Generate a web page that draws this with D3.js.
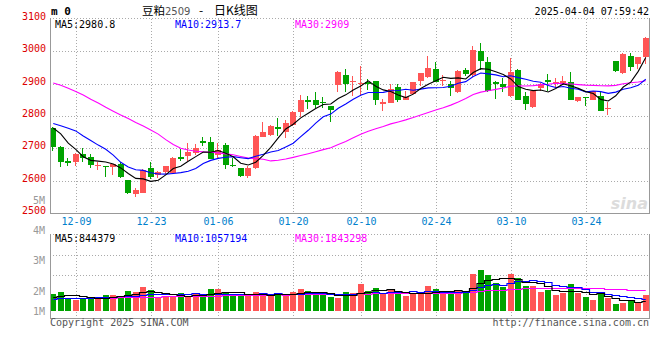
<!DOCTYPE html>
<html><head><meta charset="utf-8">
<script src="https://cdn.jsdelivr.net/npm/d3@7"></script>
<style>
html,body{margin:0;padding:0;background:#fff;}
svg{display:block;}
text{font-family:"DejaVu Sans Mono",monospace;}
</style></head><body>
<svg id="c" width="660" height="360"></svg>
<script>
// ---------- data ----------
const dates = ["12-04","12-05","12-06","12-09","12-10","12-11","12-12","12-13","12-16","12-17","12-18","12-19","12-20","12-23","12-24","12-25","12-26","12-27","12-30","12-31",
"01-02","01-03","01-06","01-07","01-08","01-09","01-10","01-13","01-14","01-15","01-16","01-17","01-20","01-21","01-22","01-23","01-24","01-27",
"02-05","02-06","02-07","02-10","02-11","02-12","02-13","02-14","02-17","02-18","02-19","02-20","02-21","02-24","02-25","02-26","02-27","02-28",
"03-03","03-04","03-05","03-06","03-07","03-10","03-11","03-12","03-13","03-14","03-17","03-18","03-19","03-20","03-21","03-24","03-25","03-26","03-27","03-28","03-31",
"04-01","04-02","04-03"];
const opens  = [2764,2705,2661,2659,2682,2672,2645,2646,2641,2651,2602,2558,2563,2638,2617,2628,2625,2674,2676,2686,
2723,2721,2679,2710,2650,2638,2615,2640,2736,2742,2766,2750,2772,2811,2851,2848,2844,2832,
2896,2928,2904,2899,2904,2909,2837,2839,2891,2850,2868,2907,2920,2945,2907,2900,2875,2942,
2926,3000,2966,2905,2899,2863,2941,2863,2827,2886,2910,2898,2903,2905,2847,2859,2850,2863,2824,2971,2934,
2987,2961,2982];
const highs  = [2767,2707,2669,2685,2700,2684,2659,2646,2653,2658,2602,2578,2635,2659,2631,2645,2672,2697,2715,2713,
2734,2734,2715,2715,2669,2640,2645,2742,2781,2773,2793,2789,2817,2866,2863,2873,2860,2832,
2938,2945,2925,2954,2914,2909,2853,2899,2899,2878,2906,2932,2987,2966,2927,2908,2941,2947,
3015,3025,2982,2908,2919,2980,2944,2875,2880,2903,2931,2919,2924,2936,2859,2859,2878,2873,2842,2971,2995,
2995,2984,3043];
const lows   = [2693,2643,2645,2645,2659,2640,2633,2612,2618,2607,2559,2549,2561,2605,2607,2620,2621,2662,2662,2679,
2708,2667,2669,2635,2643,2610,2608,2636,2734,2739,2739,2731,2768,2796,2822,2825,2825,2781,
2873,2873,2863,2866,2880,2835,2817,2839,2844,2848,2866,2894,2918,2904,2893,2861,2871,2924,
2921,2941,2873,2853,2873,2858,2848,2820,2825,2878,2878,2888,2896,2850,2842,2832,2849,2814,2804,2935,2929,
2938,2945,2962];
const closes = [2705,2659,2654,2682,2671,2648,2647,2641,2651,2610,2563,2571,2633,2612,2628,2645,2669,2668,2690,2700,
2715,2667,2695,2648,2645,2614,2640,2739,2752,2770,2761,2778,2811,2851,2842,2834,2839,2820,
2935,2899,2909,2901,2899,2851,2844,2884,2848,2858,2904,2932,2948,2904,2910,2888,2939,2931,
3005,2969,2878,2900,2890,2936,2851,2837,2878,2900,2905,2905,2908,2850,2859,2855,2876,2817,2826,2938,2991,
2951,2984,3040];
const volumes = [1480000,1660000,1120000,970000,1120000,1180000,1030000,1390000,1390000,1270000,
1720000,1660000,2100000,1810000,1120000,1180000,1330000,1540000,1270000,1450000,
1210000,1900000,1900000,1630000,1420000,1300000,1300000,1630000,1540000,1300000,
1420000,1450000,1630000,1900000,1720000,1420000,1420000,1210000,1120000,1660000,
1570000,2370000,1720000,2020000,1480000,1900000,1510000,1270000,1480000,1480000,
2190000,1930000,1510000,1720000,1810000,1720000,3270000,3590000,3150000,2430000,
2080000,3270000,2910000,2190000,2190000,1660000,1840000,1360000,1540000,2367000,
1520000,1250000,910000,1560000,1110045,560000,680000,900000,680000,1401895];
// moving-average values before enough in-window data exists
const ma5Head  = [2763,2745,2716,2697];
const ma10Head = [2777,2770,2762,2754,2738,2724,2710,2697,2679];
const ma30Head = [2902,2895,2886,2876,2865,2852,2840,2827,2815,2803,2792,2780,2769,2757,2744,2727,2712,2700,2695,2691,2689,2688,2686,2683,2680,2675,2670,2668,2666];
const vma5Head  = [1200000,1300000,1340000,1340000];
const vma10Head = [1070000,1100000,1130000,1130000,1130000,1150000,1170000,1190000,1220000];
const vma30Head = [1070000,1090000,1110000,1120000,1130000,1130000,1140000,1150000,1160000,1180000,1190000,1200000,1220000,1240000,1250000,1260000,1270000,1280000,1290000,1300000,1310000,1320000,1330000,1350000,1370000,1380000,1400000,1410000,1420000];
const priceTicks = [2500,2600,2700,2800,2900,3000,3100];
const volTicks = [1000000,2000000,3000000,4000000,5000000];
const volTickLabels = ["1M","2M","3M","4M","5M"];
const dateTicks = ["12-09","12-23","01-06","01-20","02-10","02-24","03-10","03-24"];
const titleName = "豆粕", titleCode = "2509", titleDash = "-", titleTail = "日K线图";
const stamp = "2025-04-04 07:59:42";

// ---------- helpers ----------
function movingAvg(vals, n, head){
  return vals.map((v,i)=>{
    if(i < n-1) return head[i];
    let s=0; for(let k=i-n+1;k<=i;k++) s+=vals[k]; return s/n;
  });
}
const ma5 = movingAvg(closes,5,ma5Head), ma10 = movingAvg(closes,10,ma10Head), ma30 = movingAvg(closes,30,ma30Head);
const vma5 = movingAvg(volumes,5,vma5Head), vma10 = movingAvg(volumes,10,vma10Head), vma30 = movingAvg(volumes,30,vma30Head);
const fmtP = v => String(+v.toFixed(1));
const fmtV = v => String(Math.round(v));

// ---------- layout ----------
const L=50, R=649, PT=19, PB=213, VT=234, VB=318;
const RED="#ff5555", GREEN="#00a300", GRID="#aaaaaa", AX="#999999";
const svg = d3.select("#c");

const x = d3.scaleBand().domain(dates).range([49.5, 649.5]);
const cx = d => x(d) + x.step()/2;
const y = d3.scaleLinear().domain([2500,3100]).range([PB,PT]);
const yV = d3.scaleLinear().domain([0,4000000]).range([310.5,265.7]);
const yVL = d3.scaleLinear().domain([2000000,5000000]).range([294.5,203.5]);

const idx = d3.range(dates.length);
const up = i => closes[i] >= opens[i];

// ---------- grids ----------
const g = svg.append("g").attr("shape-rendering","crispEdges");
g.selectAll(".hg").data(priceTicks.filter(t=>t>2500 && t<3100)).join("line")
  .attr("x1",L).attr("x2",R).attr("y1",t=>Math.round(y(t))+0.5).attr("y2",t=>Math.round(y(t))+0.5)
  .attr("stroke",GRID).attr("stroke-dasharray","1,2");
[PT-0.5, VT+0.5].forEach(yy=>{
  g.append("line").attr("x1",L).attr("x2",R).attr("y1",yy).attr("y2",yy).attr("stroke",GRID).attr("stroke-dasharray","1,2");
});
[255.5,275.5].forEach(yy=>{
  g.append("line").attr("x1",L).attr("x2",R).attr("y1",yy).attr("y2",yy).attr("stroke",GRID).attr("stroke-dasharray","1,2");
});
const gx = d => Math.round(cx(d))+0.5;
g.selectAll(".vg").data(dateTicks).join("line")
  .attr("x1",gx).attr("x2",gx).attr("y1",PT).attr("y2",PB).attr("stroke",GRID).attr("stroke-dasharray","1,2");
g.selectAll(".vg2").data(dateTicks).join("line")
  .attr("x1",gx).attr("x2",gx).attr("y1",VT).attr("y2",VB).attr("stroke",GRID).attr("stroke-dasharray","1,2");

// watermark (behind marks)
svg.append("text").attr("x",648).attr("y",209).attr("text-anchor","end")
  .style("font-family","'DejaVu Sans',sans-serif").attr("font-size","16px").attr("font-style","italic").attr("font-weight","bold")
  .attr("fill","#dcdcdc").text("sina");

// ---------- candles ----------
const cg = svg.append("g").attr("shape-rendering","crispEdges");
idx.forEach(i=>{
  const d = dates[i];
  const left = Math.round(cx(d)-3);
  const col = up(i) ? RED : GREEN;
  const top = Math.round(y(Math.max(opens[i],closes[i])));
  const bot = Math.round(y(Math.min(opens[i],closes[i])));
  const hi = Math.round(y(highs[i])), lo = Math.round(y(lows[i]));
  cg.append("rect").attr("x",left+2).attr("y",hi).attr("width",1).attr("height",Math.max(1,lo-hi)).attr("fill",col);
  cg.append("rect").attr("x",left).attr("y",top).attr("width",6).attr("height",Math.max(1,bot-top)).attr("fill",col);
  const vt = Math.round(yV(volumes[i]));
  cg.append("rect").attr("x",left).attr("y",vt).attr("width",6).attr("height",311-vt).attr("fill",col);
});

// ---------- MA lines ----------
const lineP = d3.line().x((v,i)=>cx(dates[i])).y(v=>y(v));
[[ma30,"#ff00ff"],[ma10,"#0000ff"],[ma5,"#000000"]].forEach(([s,c])=>{
  svg.append("path").attr("d",lineP(s)).attr("fill","none").attr("stroke",c).attr("stroke-width",1.1);
});
const lineV = d3.line().x((v,i)=>cx(dates[i])).y(v=>Math.round(yV(v))+0.5).curve(d3.curveStep);
[[vma30,"#ff00ff"],[vma10,"#0000ff"],[vma5,"#000000"]].forEach(([s,c])=>{
  svg.append("path").attr("d",lineV(s)).attr("fill","none").attr("stroke",c).attr("stroke-width",1.2);
});

// ---------- axes / borders ----------
const bg = svg.append("g").attr("shape-rendering","crispEdges").attr("stroke",AX);
bg.append("line").attr("x1",L+0.5).attr("x2",L+0.5).attr("y1",PT-1).attr("y2",PB+1);
bg.append("line").attr("x1",R+0.5).attr("x2",R+0.5).attr("y1",PT-1).attr("y2",PB+1);
bg.append("line").attr("x1",L).attr("x2",R+1).attr("y1",PB+0.5).attr("y2",PB+0.5);
bg.append("line").attr("x1",L+0.5).attr("x2",L+0.5).attr("y1",VT).attr("y2",VB+1);
bg.append("line").attr("x1",R+0.5).attr("x2",R+0.5).attr("y1",VT).attr("y2",VB+1);
bg.append("line").attr("x1",L).attr("x2",R+1).attr("y1",VB+0.5).attr("y2",VB+0.5);

svg.selectAll(".pl").data(priceTicks).join("text")
  .attr("x",46).attr("y",t=>y(t)+1).attr("text-anchor","end")
  .attr("font-size","10px").attr("fill","#dd0000").text(t=>t);
svg.selectAll(".vl").data(volTicks).join("text")
  .attr("x",45).attr("y",v=>Math.min(yVL(v), 315)).attr("text-anchor","end")
  .attr("font-size","10px").attr("fill","#999").text((v,i)=>volTickLabels[i]);
svg.selectAll(".dl").data(dateTicks).join("text")
  .attr("x",d=>gx(d)).attr("y",225).attr("text-anchor","middle")
  .attr("font-size","10px").attr("fill","#0080cc").text(d=>d);

// legends
const last = dates.length-1;
const leg = (yy, items) => items.forEach(([xx,txt,c])=>{
  svg.append("text").attr("x",xx).attr("y",yy).attr("font-size","10px").attr("fill",c).text(txt);
});
leg(27.5,[[55,"MA5:"+fmtP(ma5[last]),"#000"],[175,"MA10:"+fmtP(ma10[last]),"#0000ff"],[295,"MA30:"+fmtP(ma30[last]),"#ff00ff"]]);
leg(241.5,[[55,"MA5:"+fmtV(vma5[last]),"#000"],[175,"MA10:"+fmtV(vma10[last]),"#0000ff"],[295,"MA30:"+fmtV(vma30[last]),"#ff00ff"]]);

// header
svg.append("text").attr("x",51).attr("y",15).attr("font-size","11px").attr("font-weight","bold").attr("fill","#000").text("m 0");
const cjk = "'Noto Sans CJK SC','DejaVu Sans',sans-serif";
svg.append("text").attr("x",142).attr("y",14.5).style("font-family",cjk).attr("font-size","11.5px").attr("fill","#000").text(titleName);
svg.append("text").attr("x",165).attr("y",14.5).style("font-family","'DejaVu Sans',sans-serif").attr("font-size","10px").attr("fill","#555").text(titleCode);
svg.append("text").attr("x",201).attr("y",14.5).attr("text-anchor","middle").style("font-family",cjk).attr("font-size","12px").attr("fill","#000").text(titleDash);
svg.append("text").attr("x",214).attr("y",14.5).style("font-family",cjk).attr("font-size","12px").attr("fill","#000").text(titleTail);
svg.append("text").attr("x",649).attr("y",15).attr("text-anchor","end").attr("font-size","10px").attr("fill","#000").text(stamp);

// footer
svg.append("text").attr("x",50).attr("y",326).attr("font-size","10px").attr("fill","#555").text("Copyright 2025 SINA.COM");
svg.append("text").attr("x",649).attr("y",326).attr("text-anchor","end").attr("font-size","10px").attr("fill","#555").text("http://finance.sina.com.cn");
</script>
</body></html>
